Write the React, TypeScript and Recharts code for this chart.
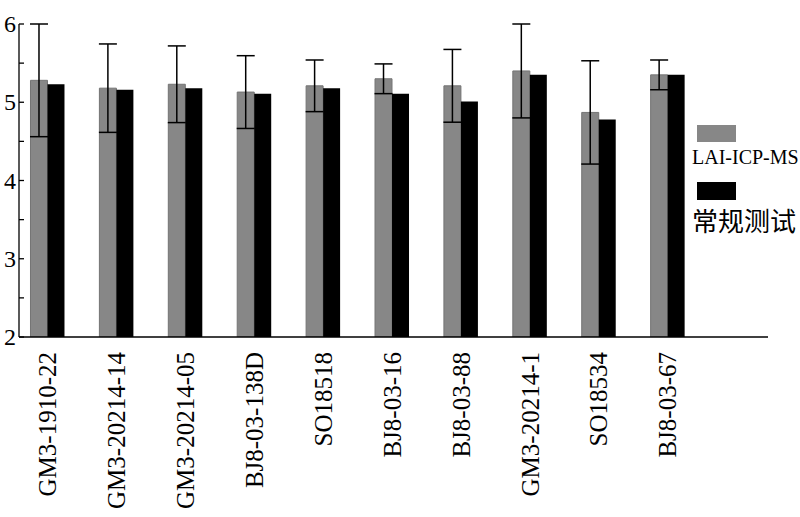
import { BarChart, Bar, XAxis, YAxis, ErrorBar, Legend } from 'recharts';

// sample names along the x axis
const SAMPLES = [
  'GM3-1910-22', 'GM3-20214-14', 'GM3-20214-05', 'BJ8-03-138D', 'SO18518',
  'BJ8-03-16', 'BJ8-03-88', 'GM3-20214-1', 'SO18534', 'BJ8-03-67',
];
// LAI-ICP-MS mean and its error (±)
const LAI_VALUES = [5.28, 5.18, 5.23, 5.13, 5.21, 5.30, 5.21, 5.40, 4.87, 5.35];
const LAI_ERRORS = [0.72, 0.565, 0.49, 0.465, 0.33, 0.19, 0.465, 0.60, 0.66, 0.19];
// 常规测试
const ROUTINE_VALUES = [5.23, 5.16, 5.18, 5.11, 5.18, 5.11, 5.01, 5.35, 4.78, 5.35];

const Y_TICKS = [2, 2.5, 3, 3.5, 4, 4.5, 5, 5.5, 6];
const X_TICKS = SAMPLES.map((_, i) => i);

const data = SAMPLES.map((name, i) => ({
  idx: i,
  name,
  lai: LAI_VALUES[i],
  laiErr: LAI_ERRORS[i],
  routine: ROUTINE_VALUES[i],
}));

const SERIF = '"Liberation Serif", "Times New Roman", serif';
const CJK = '"Noto Sans CJK SC", "Liberation Serif", serif';

/* eslint-disable @typescript-eslint/no-explicit-any */
function YTick({ x, y, payload }: any) {
  const v = payload.value as number;
  const major = Number.isInteger(v);
  return (
    <g>
      <line x1={x} x2={x + 5} y1={y} y2={y} stroke="#000" strokeWidth={1.3} />
      {major && (
        <text x={x - 3} y={y} dy="0.34em" textAnchor="end" fontSize={24} fontFamily={SERIF} fill="#000">
          {v}
        </text>
      )}
    </g>
  );
}

function XTick({ x, y, payload }: any) {
  return (
    <g transform={`translate(${x},${y + 15}) rotate(-90)`}>
      <text x={0} y={0} dy="0.33em" textAnchor="end" fontSize={25} fontFamily={SERIF} fill="#000">
        {SAMPLES[payload.value]}
      </text>
    </g>
  );
}

function LegendBox() {
  return (
    <div style={{ position: 'relative', width: 110, height: 120 }}>
      <div style={{ position: 'absolute', left: 7, top: 5, width: 39, height: 17, background: '#878787' }} />
      <div style={{ position: 'absolute', left: 2, top: 25, fontFamily: SERIF, fontSize: 20, lineHeight: '24px', color: '#000', whiteSpace: 'nowrap' }}>
        LAI-ICP-MS
      </div>
      <div style={{ position: 'absolute', left: 7, top: 62, width: 39, height: 18, background: '#000' }} />
      <div style={{ position: 'absolute', left: 2, top: 84, fontFamily: CJK, fontSize: 26, lineHeight: '32px', color: '#000', whiteSpace: 'nowrap' }}>
        常规测试
      </div>
    </div>
  );
}
/* eslint-enable @typescript-eslint/no-explicit-any */

export default function App() {
  return (
    <div style={{ position: 'absolute', left: 0, top: 0, width: 800, height: 517, background: '#fff' }}>
      <BarChart
        width={800}
        height={517}
        data={data}
        margin={{ top: 24, right: 32, left: 0, bottom: 0 }}
        barGap={0}
      >
        <XAxis
          type="number"
          dataKey="idx"
          domain={[-0.42, 10.45]}
          ticks={X_TICKS}
          interval={0}
          tick={<XTick />}
          tickLine={false}
          tickSize={0}
          tickMargin={0}
          height={180}
          stroke="#000"
          strokeWidth={1.3}
          allowDataOverflow
        />
        <YAxis
          type="number"
          domain={[2, 6]}
          ticks={Y_TICKS}
          interval={0}
          tick={<YTick />}
          tickLine={false}
          tickSize={0}
          tickMargin={0}
          width={19}
          stroke="#000"
          strokeWidth={1.3}
          allowDataOverflow
        />
        <Legend
          layout="horizontal"
          verticalAlign="middle"
          content={() => <LegendBox />}
          wrapperStyle={{ position: 'absolute', left: 690, top: 120, width: 110, height: 120 }}
        />
        <Bar dataKey="lai" name="LAI-ICP-MS" fill="#878787" stroke="#747474" strokeWidth={1} barSize={17} isAnimationActive={false}>
          <ErrorBar dataKey="laiErr" width={9} stroke="#000" strokeWidth={1.5} direction="y" />
        </Bar>
        <Bar dataKey="routine" name="常规测试" fill="#000" barSize={17} isAnimationActive={false} />
      </BarChart>
    </div>
  );
}
